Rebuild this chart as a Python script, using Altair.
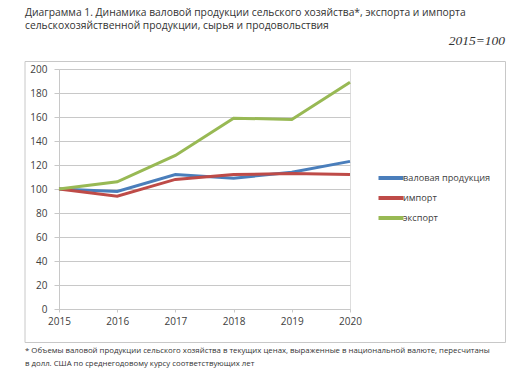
import altair as alt
import pandas as pd

years = [2015, 2016, 2017, 2018, 2019, 2020]
gross = [100, 98, 112, 109, 114, 123]
imports = [100, 94, 108, 112, 113, 112]
exports = [100, 106, 128, 159, 158, 189]
series = ["валовая продукция", "импорт", "экспорт"]
colors = ["#4A7EBB", "#BE4B48", "#98B954"]

rows = []
for name, vals in zip(series, [gross, imports, exports]):
    for y, v in zip(years, vals):
        rows.append({"year": y, "value": v, "series": name})
df = pd.DataFrame(rows)

title1 = "Диаграмма 1. Динамика валовой продукции сельского хозяйства*, экспорта и импорта"
title2 = "сельскохозяйственной продукции, сырья и продовольствия"
base_note = "2015=100"
foot1 = "* Объемы валовой продукции сельского хозяйства в текущих ценах, выраженные в национальной валюте, пересчитаны"
foot2 = "в долл. США по среднегодовому курсу соответствующих лет"

FONT = "Open Sans"
GRID = "#C8C8C8"

lines = alt.Chart(df).mark_line(strokeWidth=3).encode(
    x=alt.X("year:Q", scale=alt.Scale(domain=[2015, 2020], nice=False),
            axis=alt.Axis(values=years, format="d", title=None, grid=False,
                          labelFlush=False,
                          domainColor=GRID, tickColor=GRID, tickSize=3,
                          labelColor="#404040", labelFontSize=10, labelFont=FONT,
                          labelPadding=4)),
    y=alt.Y("value:Q", scale=alt.Scale(domain=[0, 200], nice=False),
            axis=alt.Axis(values=list(range(0, 201, 20)), title=None,
                          gridColor=GRID, domainColor=GRID,
                          tickColor=GRID, tickSize=5,
                          labelColor="#404040", labelFontSize=10, labelFont=FONT,
                          labelPadding=7)),
    color=alt.Color("series:N", sort=series,
                    scale=alt.Scale(domain=series, range=colors),
                    legend=alt.Legend(title=None, orient="none", legendX=320, legendY=97,
                                      symbolType="M-1.25,0H1.25", symbolSize=400,
                                      symbolStrokeWidth=4, labelFontSize=9.2,
                                      labelFont=FONT, labelColor="#404040",
                                      labelOffset=0, rowPadding=0, padding=0)),
    order=alt.Order("year:Q"),
)

def txt(s, x, y, size, **kw):
    return alt.Chart(pd.DataFrame({"t": [s]})).mark_text(
        fontSize=size, baseline="alphabetic", **kw
    ).encode(x=alt.value(x), y=alt.value(y), text="t:N")

def rule(x1, x2, y1, y2):
    return alt.Chart(pd.DataFrame({"a": [0]})).mark_rule(
        color=GRID, strokeWidth=1
    ).encode(x=alt.value(x1), x2=alt.value(x2), y=alt.value(y1), y2=alt.value(y2))

frame = [
    rule(-34, 446.5, -7.5, -7.5),
    rule(-34, 446.5, 273.5, 273.5),
    rule(-34, -34, -7.5, 273.5),
    rule(446.5, 446.5, -7.5, 273.5),
]

t1 = txt(title1, -34, -53.5, 10.3, align="left", font=FONT, color="#333333")
t2 = txt(title2, -34, -40.5, 10.3, align="left", font=FONT, color="#333333")
t3 = txt(base_note, 446, -24, 13.5, align="right", font="Liberation Serif",
         fontStyle="italic", color="#333333")
f1 = txt(foot1, -34, 284, 7.8, align="left", font=FONT, color="#333333")
f2 = txt(foot2, -34, 296.5, 7.8, align="left", font=FONT, color="#333333")

chart = alt.layer(*frame, lines, t1, t2, t3, f1, f2).properties(
    width=291, height=240,
    autosize=alt.AutoSizeParams(type="none"),
    padding={"left": 51, "top": 61, "right": 162, "bottom": 59},
).configure_view(stroke=None).configure(background="white")

chart.save("out.html", embed_options={"renderer": "svg", "actions": False})
